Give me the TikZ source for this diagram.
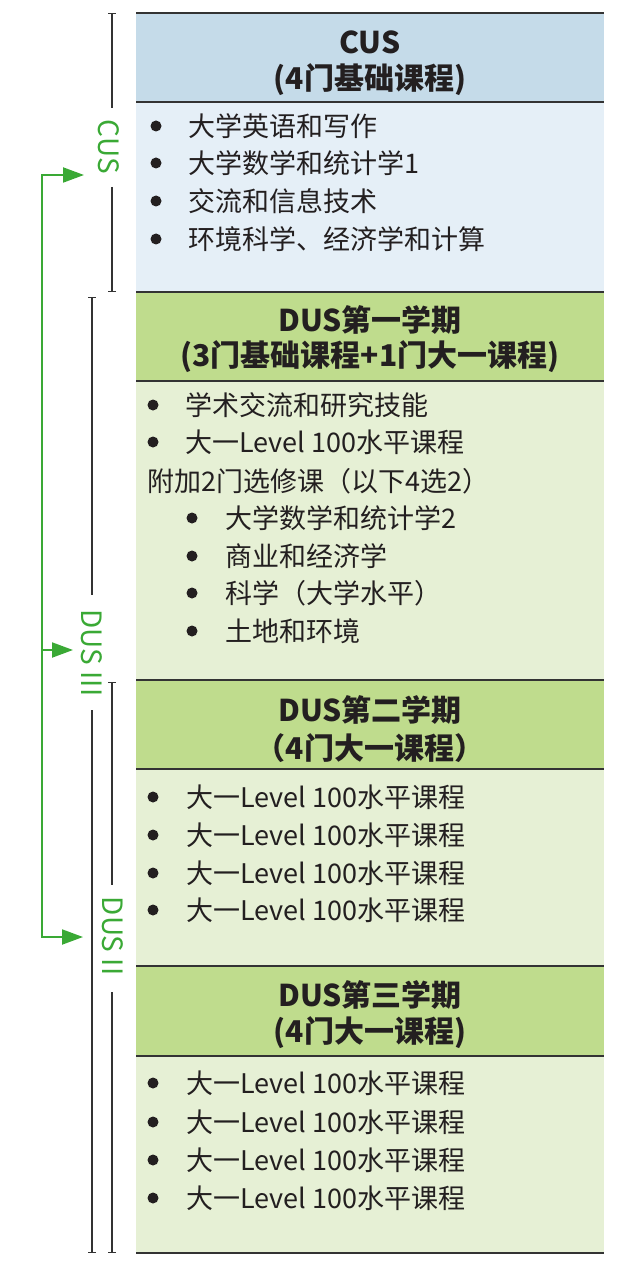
\documentclass[tikz,border=0pt]{standalone}
\usepackage{fontspec}
\setmainfont{Noto Sans CJK SC}
\usetikzlibrary{arrows.meta}
\definecolor{cushead}{HTML}{C5DBE9}
\definecolor{cusbody}{HTML}{E5EFF7}
\definecolor{dushead}{HTML}{BFDC8D}
\definecolor{dusbody}{HTML}{E6F0D5}
\definecolor{txt}{HTML}{231F20}
\definecolor{rule}{HTML}{333333}
\definecolor{grn}{HTML}{3AA935}
\tikzset{
  bodytxt/.style={anchor=west, inner sep=0pt, text=txt, font=\fontsize{27pt}{32pt}\selectfont},
  headtxt/.style={inner sep=0pt, text=txt, font=\fontsize{30pt}{35pt}\selectfont\bfseries},
  bul/.style={circle, fill=txt, minimum size=11pt, inner sep=0pt},
  sepline/.style={draw=rule, line width=2pt},
  brack/.style={draw=rule, line width=1.4pt},
  vlabel/.style={rotate=-90, inner sep=0pt, text=grn, font=\fontsize{28pt}{33pt}\selectfont},
  garrow/.style={draw=grn, line width=2pt},
  gtip/.style={-{Triangle[length=21pt,width=15pt]}},
}
\begin{document}
\begin{tikzpicture}[x=1pt,y=-1pt]
\useasboundingbox (0,0) rectangle (640,1265);
% fills
\fill[cushead] (136,13) rectangle (604,102);
\fill[cusbody] (136,102) rectangle (604,292);
\fill[dushead] (136,292) rectangle (604,381);
\fill[dusbody] (136,381) rectangle (604,680);
\fill[dushead] (136,680) rectangle (604,769);
\fill[dusbody] (136,769) rectangle (604,966);
\fill[dushead] (136,966) rectangle (604,1056);
\fill[dusbody] (136,1056) rectangle (604,1253);
% separator lines
\foreach \yy in {13,102,292,381,680,769,966,1056,1253}
  \draw[sepline] (136,\yy) -- (604,\yy);
% headers
\node[headtxt] (h1a) at (370,42) {CUS};
\node[headtxt] (h1b) at (370,80) {(4门基础课程)};
\node[headtxt] (h2a) at (370,320) {DUS第一学期};
\node[headtxt] (h2b) at (370,357) {(3门基础课程+1门大一课程)};
\node[headtxt] (h3a) at (370,710) {DUS第二学期};
\node[headtxt] (h3b) at (370,748) {（4门大一课程）};
\node[headtxt] (h4a) at (370,995) {DUS第三学期};
\node[headtxt] (h4b) at (370,1033) {(4门大一课程)};
% CUS body
\node[bul] (cb1) at (156,126) {};
\node[bodytxt] (ct1) at (188,126) {大学英语和写作};
\node[bul] (cb2) at (156,163) {};
\node[bodytxt] (ct2) at (188,163) {大学数学和统计学1};
\node[bul] (cb3) at (156,201) {};
\node[bodytxt] (ct3) at (188,201) {交流和信息技术};
\node[bul] (cb4) at (156,239) {};
\node[bodytxt] (ct4) at (188,239) {环境科学、经济学和计算};
% DUS1 body
\node[bul] (db1) at (153,405) {};
\node[bodytxt] (dt1) at (185,405) {学术交流和研究技能};
\node[bul] (db2) at (153,442) {};
\node[bodytxt] (dt2) at (185,442) {大一Level 100水平课程};
\node[bodytxt] (dt3) at (147,481) {附加2门选修课（以下4选2）};
\node[bul] (db4) at (192,518) {};
\node[bodytxt] (dt4) at (225,518) {大学数学和统计学2};
\node[bul] (db5) at (192,556) {};
\node[bodytxt] (dt5) at (225,556) {商业和经济学};
\node[bul] (db6) at (192,593) {};
\node[bodytxt] (dt6) at (225,593) {科学（大学水平）};
\node[bul] (db7) at (192,631) {};
\node[bodytxt] (dt7) at (225,631) {土地和环境};
% DUS2 body
\foreach \yy/\nm in {797/a,835/b,873/c,910/d}{
  \node[bul] (eb\nm) at (153,\yy) {};
  \node[bodytxt] (et\nm) at (186,\yy) {大一Level 100水平课程};
}
% DUS3 body
\foreach \yy/\nm in {1083/a,1122/b,1160/c,1198/d}{
  \node[bul] (fb\nm) at (153,\yy) {};
  \node[bodytxt] (ft\nm) at (186,\yy) {大一Level 100水平课程};
}
% vertical labels
\node[vlabel] (lcus) at (109,147) {CUS};
\node[vlabel] (ldus3) at (92,653) {DUS III};
\node[vlabel] (ldus2) at (113,936) {DUS II};
% brackets
\coordinate (c1t) at (112,13);  \coordinate (c1m) at (112,108);
\coordinate (c1n) at (112,187); \coordinate (c1b) at (112,292);
\coordinate (d3t) at (92,297);  \coordinate (d3m) at (92,595);
\coordinate (d3n) at (92,710);  \coordinate (d3b) at (92,1253);
\coordinate (d2t) at (112,682); \coordinate (d2m) at (112,885);
\coordinate (d2n) at (112,992); \coordinate (d2b) at (112,1253);
\draw[brack, {Bar[width=8pt]}-] (c1t) -- (c1m);
\draw[brack, -{Bar[width=8pt]}] (c1n) -- (c1b);
\draw[brack, {Bar[width=8pt]}-] (d3t) -- (d3m);
\draw[brack, -{Bar[width=8pt]}] (d3n) -- (d3b);
\draw[brack, {Bar[width=8pt]}-] (d2t) -- (d2m);
\draw[brack, -{Bar[width=8pt]}] (d2n) -- (d2b);
% green arrows
\coordinate (g1) at (42,175); \coordinate (a1) at (84,175);
\coordinate (g2) at (42,650); \coordinate (a2) at (73,650);
\coordinate (g3) at (42,937); \coordinate (a3) at (83,937);
\draw[garrow, {Triangle[length=21pt,width=15pt]}-{Triangle[length=21pt,width=15pt]}] (a1) -- (g1) -- (g3) -- (a3);
\draw[garrow, gtip] (g2) -- (a2);
\end{tikzpicture}
\end{document}
